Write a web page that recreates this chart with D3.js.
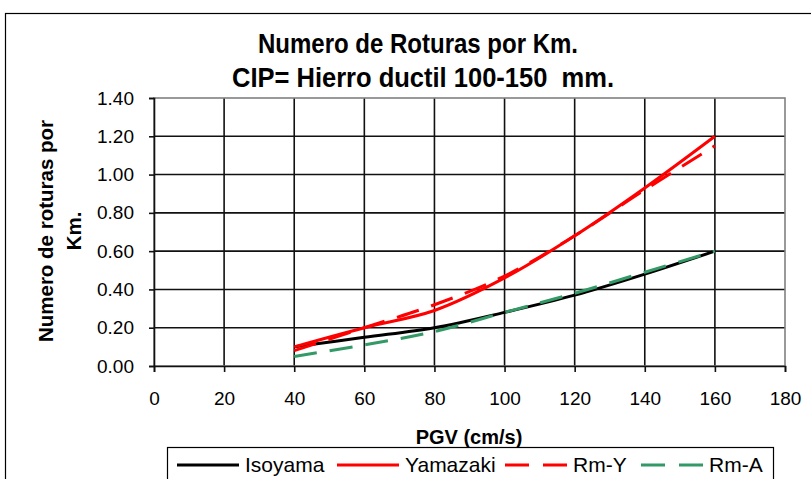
<!DOCTYPE html>
<html>
<head>
<meta charset="utf-8">
<script src="https://cdn.jsdelivr.net/npm/d3@7"></script>
<style>
  body { margin: 0; background: #fff; }
  svg { font-family: "Liberation Sans", Arial, sans-serif; }
  text { white-space: pre; }
</style>
</head>
<body>
<div id="chart"></div>
<script>
// PGV values and the four curves
var pgv      = [40, 60, 80, 100, 120, 140, 160]
var isoyama  = [0.10, 0.15, 0.20, 0.28, 0.37, 0.48, 0.60]
var yamazaki = [0.10, 0.20, 0.29, 0.46, 0.68, 0.93, 1.20]
var rmY      = [0.08, 0.20, 0.32, 0.47, 0.68, 0.92, 1.15]
var rmA      = [0.05, 0.11, 0.18, 0.28, 0.38, 0.49, 0.60]
var xTicks = [0, 20, 40, 60, 80, 100, 120, 140, 160, 180]
var yTicks = [0, 0.2, 0.4, 0.6, 0.8, 1.0, 1.2, 1.4]

var series = [
  {name: "Isoyama",  values: isoyama,  color: "#000000", dash: null},
  {name: "Yamazaki", values: yamazaki, color: "#ff0000", dash: null},
  {name: "Rm-Y",     values: rmY,      color: "#ff0000", dash: "23,13"},
  {name: "Rm-A",     values: rmA,      color: "#339966", dash: "23,13"}
]

var w = 811, h = 479
var svg = d3.select("#chart").append("svg")
  .attr("width", w).attr("height", h)

// outer chart frame
svg.append("rect")
  .attr("x", 5.5).attr("y", 13.5)
  .attr("width", 820).attr("height", 480)
  .attr("fill", "none").attr("stroke", "#000").attr("stroke-width", 1.2)

var x = d3.scaleLinear().domain([0, 180]).range([154, 785])
var y = d3.scaleLinear().domain([0, 1.4]).range([366, 98])

// titles (tall, narrow lettering like the original)
svg.append("text").attr("x", 418).attr("y", 53).attr("text-anchor", "middle")
  .attr("font-size", 28).attr("font-weight", "bold")
  .attr("textLength", 320).attr("lengthAdjust", "spacingAndGlyphs")
  .text("Numero de Roturas por Km.")
svg.append("text").attr("x", 423).attr("y", 87).attr("text-anchor", "middle")
  .attr("font-size", 28).attr("font-weight", "bold")
  .attr("textLength", 382).attr("lengthAdjust", "spacingAndGlyphs")
  .text("CIP= Hierro ductil 100-150  mm.")

// grid
var grid = svg.append("g")
grid.selectAll(".gx").data(xTicks.slice(1, -1)).join("line")
  .attr("x1", d => x(d)).attr("x2", d => x(d))
  .attr("y1", y(1.4)).attr("y2", y(0))
  .attr("stroke", "#111").attr("stroke-width", 1.6)
grid.selectAll(".gy").data(yTicks.slice(1, -1)).join("line")
  .attr("x1", x(0)).attr("x2", x(180))
  .attr("y1", d => y(d)).attr("y2", d => y(d))
  .attr("stroke", "#111").attr("stroke-width", 1.6)

svg.append("rect")
  .attr("x", x(0)).attr("y", y(1.4))
  .attr("width", x(180) - x(0)).attr("height", y(0) - y(1.4))
  .attr("fill", "none").attr("stroke", "#808080").attr("stroke-width", 1.6)

// axes
var xAxis = svg.append("g").attr("transform", "translate(0," + y(0) + ")")
  .call(d3.axisBottom(x).tickValues(xTicks).tickSize(6).tickPadding(20).tickFormat(d3.format("d")))
var yAxis = svg.append("g").attr("transform", "translate(" + x(0) + ",0)")
  .call(d3.axisLeft(y).tickValues(yTicks).tickSize(5).tickPadding(15).tickFormat(d3.format(".2f")))

;[xAxis, yAxis].forEach(function(a) {
  a.select(".domain").attr("stroke", "#111").attr("stroke-width", 1.6)
  a.selectAll(".tick line").attr("stroke", "#111").attr("stroke-width", 1.6)
  a.selectAll("text").attr("font-size", 19).attr("fill", "#000")
    .attr("font-family", "Liberation Sans, Arial, sans-serif")
})

// axis titles
svg.append("text").attr("x", 469).attr("y", 444).attr("text-anchor", "middle")
  .attr("font-size", 20).attr("font-weight", "bold").text("PGV (cm/s)")
var yt = svg.append("text").attr("transform", "translate(53,231) rotate(-90)")
  .attr("text-anchor", "middle").attr("font-size", 20.5).attr("font-weight", "bold")
yt.append("tspan").attr("x", 0).attr("y", 0).text("Numero de roturas por")
yt.append("tspan").attr("x", 0).attr("y", 28).text("Km.")

// lines
var line = d3.line()
  .x((d, i) => x(pgv[i]))
  .y(d => y(d))
  .curve(d3.curveCatmullRom.alpha(0.5))

svg.append("g").selectAll("path").data(series).join("path")
  .attr("d", d => line(d.values))
  .attr("fill", "none")
  .attr("stroke", d => d.color)
  .attr("stroke-width", 3)
  .attr("stroke-dasharray", d => d.dash)

// legend
var lg = svg.append("g")
lg.append("rect").attr("x", 167.5).attr("y", 447.5).attr("width", 606).attr("height", 45)
  .attr("fill", "#fff").attr("stroke", "#000").attr("stroke-width", 1.2)
var legX = [177, 337, 505, 641]
var item = lg.selectAll(".item").data(series).join("g")
  .attr("transform", (d, i) => "translate(" + legX[i] + ",465)")
item.append("line").attr("x1", 0).attr("x2", 62).attr("y1", 0).attr("y2", 0)
  .attr("stroke", d => d.color).attr("stroke-width", 3)
  .attr("stroke-dasharray", d => d.dash ? "24,14" : null)
item.append("text").attr("x", 68).attr("y", 7).attr("font-size", 21)
  .text(d => d.name)
</script>
</body>
</html>
